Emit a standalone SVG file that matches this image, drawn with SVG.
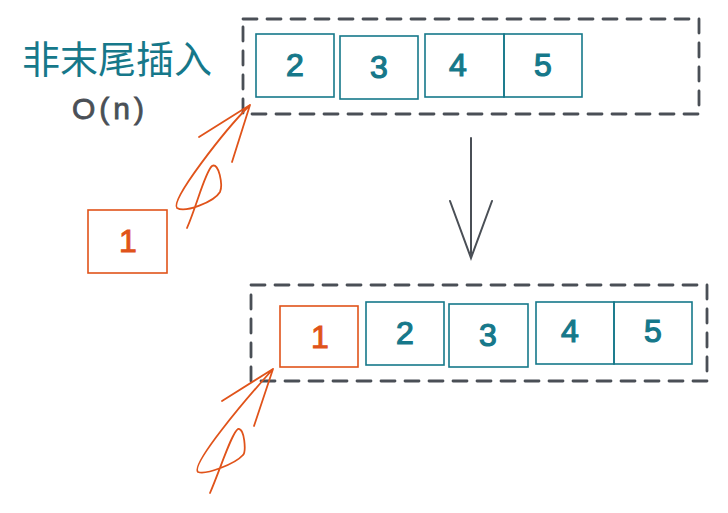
<svg xmlns="http://www.w3.org/2000/svg" width="728" height="513" viewBox="0 0 728 513">
<style>
.dash{fill:none;stroke:#4a4f56;stroke-width:2.8;stroke-dasharray:14 10;stroke-linecap:round}
.cell{fill:none;stroke:#16788a;stroke-width:1.6}
.ocell{fill:none;stroke:#e0531a;stroke-width:1.6}
.num{font-family:"Comic Sans MS","Liberation Sans",sans-serif;font-size:32px;fill:#16788a;stroke:#16788a;stroke-width:1.2;text-anchor:middle}
.onum{font-family:"Liberation Sans",sans-serif;font-size:32px;fill:#e0531a;stroke:#e0531a;stroke-width:1;text-anchor:middle}
.orr{fill:none;stroke:#e0531a;stroke-width:1.8;stroke-linecap:round;stroke-linejoin:round}
.gr{fill:none;stroke:#4a4f56;stroke-width:2;stroke-linecap:round}
</style>
<rect width="728" height="513" fill="#ffffff"/>
<g id="title">
<text x="117" y="73" font-family="Noto Sans CJK SC, sans-serif" font-size="38" fill="#16788a" text-anchor="middle">非末尾插入</text>
<text x="110" y="119" font-family="Liberation Sans, sans-serif" font-size="30" letter-spacing="4" fill="#4a4f56" stroke="#4a4f56" stroke-width="0.8" text-anchor="middle">O(n)</text>
</g>
<g id="top-array">
<rect class="dash" x="243" y="19" width="456" height="95"/>
<g id="t2"><rect class="cell" x="256" y="34" width="78" height="63"/><text class="num" x="295" y="76">2</text></g>
<g id="t3"><rect class="cell" x="340" y="36" width="78" height="63"/><text class="num" x="379" y="78">3</text></g>
<g id="t4"><rect class="cell" x="425" y="34" width="79" height="63"/><text class="num" x="458" y="76">4</text></g>
<g id="t5"><rect class="cell" x="504" y="34" width="78" height="63"/><text class="num" x="543" y="76">5</text></g>
</g>
<g id="new-one">
<rect class="ocell" x="88" y="210" width="79" height="63"/><text class="onum" x="128" y="252">1</text>
</g>
<g id="bottom-array">
<rect class="dash" x="251" y="285" width="456" height="96"/>
<g id="b1"><rect class="ocell" x="280" y="306" width="78" height="61"/><text class="onum" x="320" y="348">1</text></g>
<g id="b2"><rect class="cell" x="366" y="302" width="78" height="63"/><text class="num" x="405" y="344">2</text></g>
<g id="b3"><rect class="cell" x="449" y="304" width="79" height="63"/><text class="num" x="488" y="346">3</text></g>
<g id="b4"><rect class="cell" x="536" y="302" width="78" height="62"/><text class="num" x="570" y="342">4</text></g>
<g id="b5"><rect class="cell" x="614" y="302" width="78" height="62"/><text class="num" x="653" y="342">5</text></g>
</g>
<g id="connectors">
<path class="gr" d="M471 138 L471 258 M450 201 L471 258 L492 201"/>
<path class="orr" d="M187 228 C197 205 205 172 212 166 C219 162 223 185 220 192 C214 202 185 213 177 208 C170 200 225 130 250 105 M199 137 L250 105 L232 162"/>
<path class="orr" d="M210 493 C220 470 232 432 238 429 C245 428 246 452 243 455 C235 464 206 475 198 472 C190 465 245 400 273 369 M222 401 L273 369 L254 426"/>
</g>
</svg>
